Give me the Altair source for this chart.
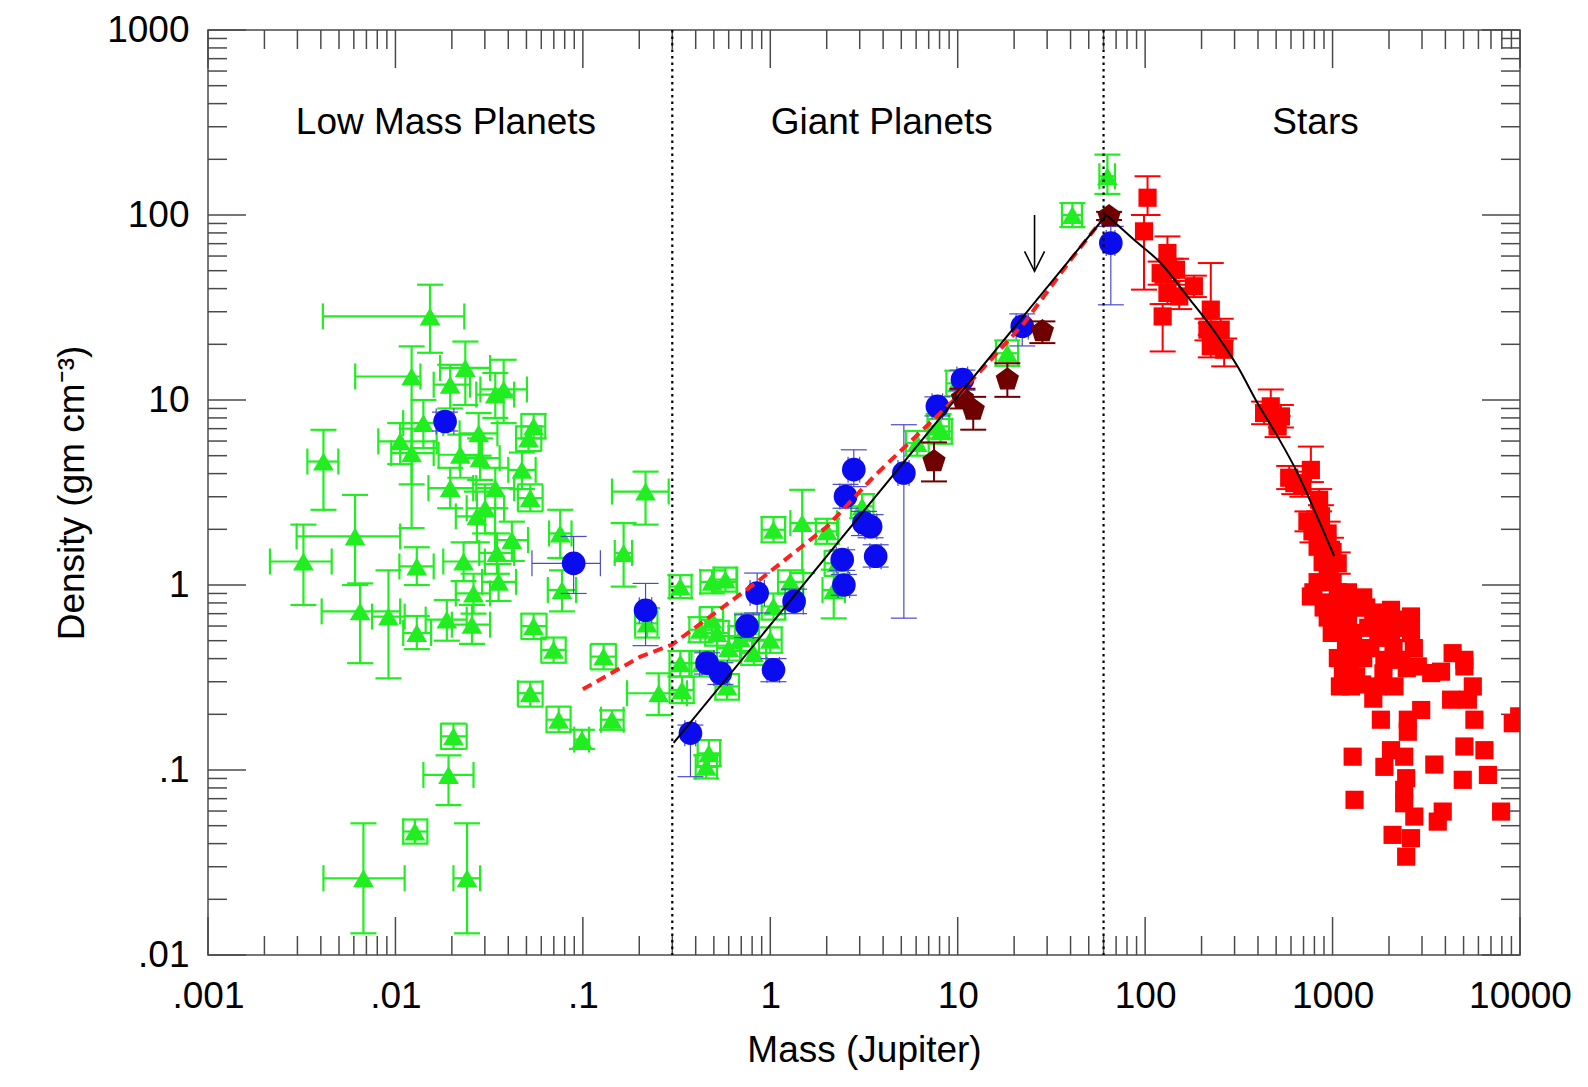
import altair as alt
import pandas as pd

# ---------------- data ----------------
# Green triangles (mass in M_Jup, density in g/cm^3, with error ranges)
g_mass = [0.0153, 0.0122, 0.0236, 0.0196, 0.0378, 0.0341, 0.0141, 0.0106, 0.0122, 0.0278,
          0.0546, 0.0513, 0.00413, 0.0222, 0.0283, 0.0473, 0.0196, 0.0341, 0.0524, 0.0301,
          0.0272, 0.216, 0.00609, 0.00323, 0.0757, 0.0418, 0.013, 0.0231, 0.0348, 0.0774,
          0.0355, 0.0261, 0.165, 0.22, 0.00648, 0.00918, 0.013, 0.0188, 0.0256, 0.0546,
          0.0698, 0.129, 0.0524, 0.0743, 0.0989, 0.143, 0.254, 0.0204, 0.0192, 0.0127,
          0.00675, 0.0241, 0.331, 0.338, 0.489, 0.576, 1.28, 1.48, 1.04, 2.01,
          2.27, 2.18, 3.09, 6.08, 8.1, 7.9, 9.95, 18.4, 40.9, 62.9,
          0.424, 0.489, 0.52, 0.693, 0.6, 0.752, 0.816, 1.0, 1.04, 0.588,
          0.433, 0.331, 0.47, 0.455]
g_dens = [28.3, 13.4, 14.9, 12.1, 11.4, 10.7, 7.5, 5.98, 5.16, 6.6,
          7.2, 6.2, 4.65, 5.06, 4.85, 4.19, 3.34, 3.34, 2.95, 2.6,
          2.35, 3.2, 1.83, 1.34, 1.9, 1.75, 1.26, 1.34, 1.49, 0.94,
          1.04, 0.9, 1.49, 0.62, 0.72, 0.675, 0.55, 0.65, 0.61, 0.6,
          0.446, 0.41, 0.26, 0.187, 0.146, 0.187, 0.26, 0.152, 0.094, 0.0465,
          0.026, 0.026, 0.98, 0.271, 1.04, 1.07, 1.04, 2.16, 1.99, 1.95,
          1.31, 0.94, 2.66, 5.85, 6.77, 7.2, 12.3, 17.9, 100, 162,
          0.573, 0.649, 0.55, 0.516, 0.456, 0.6, 0.428, 0.506, 0.765, 0.283,
          0.378, 0.378, 0.123, 0.104]
g_mass_lo = [0.0041, 0.0061, 0.0173, 0.016, 0.0284, 0.027, 0.011, 0.0081, 0.0095, 0.022,
             0.047, 0.044, 0.00339, 0.017, 0.022, 0.04, 0.015, 0.027, 0.045, 0.024,
             0.021, 0.143, 0.00297, 0.00214, 0.066, 0.034, 0.0105, 0.018, 0.028, 0.065,
             0.029, 0.021, 0.148, 0.19, 0.00404, 0.0075, 0.011, 0.0145, 0.02, 0.047,
             0.06, 0.11, 0.045, 0.064, 0.09, 0.125, 0.172, 0.0175, 0.0141, 0.011,
             0.00413, 0.0204, 0.29, 0.29, 0.424, 0.5, 1.1, 1.28, 0.9, 1.75,
             1.95, 1.9, 2.7, 5.3, 7.0, 6.9, 8.7, 16, 36, 57,
             0.37, 0.42, 0.45, 0.6, 0.52, 0.65, 0.7, 0.87, 0.9, 0.51,
             0.37, 0.29, 0.41, 0.4]
g_mass_hi = [0.0233, 0.0136, 0.032, 0.025, 0.0503, 0.043, 0.018, 0.0166, 0.016, 0.035,
             0.063, 0.06, 0.00496, 0.029, 0.036, 0.056, 0.026, 0.043, 0.061, 0.038,
             0.034, 0.287, 0.0106, 0.00457, 0.087, 0.051, 0.016, 0.03, 0.043, 0.092,
             0.044, 0.032, 0.183, 0.25, 0.0106, 0.0112, 0.0155, 0.024, 0.032, 0.064,
             0.081, 0.15, 0.061, 0.086, 0.108, 0.165, 0.359, 0.024, 0.0261, 0.0148,
             0.0112, 0.0283, 0.38, 0.39, 0.665, 0.66, 1.5, 2.27, 1.2, 2.3,
             2.6, 2.5, 3.55, 7.0, 9.3, 9.0, 11.4, 21, 46, 69,
             0.49, 0.56, 0.6, 0.8, 0.69, 0.87, 0.95, 1.15, 1.2, 0.68,
             0.5, 0.38, 0.54, 0.52]
g_dens_lo = [18, 2.03, 9.4, 9.0, 7.5, 8.0, 5.5, 4.5, 3.5, 5.0,
             6.2, 5.3, 2.55, 3.8, 3.7, 3.3, 2.6, 2.6, 2.5, 1.9,
             1.7, 2.12, 1.0, 0.78, 1.4, 1.35, 1.0, 1.05, 1.15, 0.72,
             0.82, 0.7, 0.98, 0.52, 0.378, 0.313, 0.45, 0.5, 0.48, 0.51,
             0.38, 0.35, 0.22, 0.16, 0.13, 0.165, 0.198, 0.13, 0.0646, 0.04,
             0.0131, 0.0131, 0.85, 0.23, 0.9, 0.92, 0.9, 1.16, 1.7, 1.67,
             1.12, 0.66, 2.3, 5.0, 5.8, 6.2, 10.5, 15.3, 86, 130,
             0.49, 0.55, 0.47, 0.44, 0.39, 0.51, 0.37, 0.43, 0.65, 0.24,
             0.32, 0.32, 0.105, 0.09]
g_dens_hi = [42, 19.5, 20.7, 15.5, 16.5, 14, 10, 7.5, 7.0, 8.5,
             8.4, 7.2, 6.9, 6.5, 6.2, 5.2, 4.3, 4.3, 3.5, 3.5,
             3.2, 4.1, 3.07, 2.12, 2.55, 2.2, 1.6, 1.7, 1.9, 1.2,
             1.3, 1.15, 2.16, 0.75, 1.02, 1.2, 0.68, 0.83, 0.78, 0.7,
             0.52, 0.48, 0.3, 0.22, 0.165, 0.21, 0.333, 0.178, 0.12, 0.054,
             0.0515, 0.0515, 1.13, 0.32, 1.2, 1.24, 1.2, 3.27, 2.33, 2.28,
             1.53, 1.21, 3.1, 6.8, 7.9, 8.4, 14.4, 21, 116, 212,
             0.67, 0.76, 0.64, 0.6, 0.53, 0.7, 0.5, 0.59, 0.9, 0.33,
             0.44, 0.44, 0.145, 0.12]

# Blue circles
b_mass = [0.0184, 0.0893, 0.216, 0.375, 0.752, 0.46, 0.542, 0.851, 1.04, 1.34, 2.42, 2.47,
          2.52, 2.79, 3.16, 3.43, 3.65, 5.16, 7.79, 10.6, 22.1, 65.6]
b_dens = [7.65, 1.31, 0.73, 0.158, 0.6, 0.378, 0.334, 0.904, 0.348, 0.815, 1.37, 1.0,
          3.01, 4.2, 2.16, 2.07, 1.43, 4.03, 9.24, 12.9, 25.0, 70.5]
b_mass_lo = [0.0165, 0.0535, 0.2, 0.35, 0.7, 0.42, 0.5, 0.78, 0.96, 1.2, 2.25, 2.3,
             2.35, 2.6, 2.95, 3.2, 3.4, 4.8, 7.3, 9.9, 20.5, 62]
b_mass_hi = [0.0205, 0.124, 0.233, 0.4, 0.81, 0.5, 0.59, 0.93, 1.12, 1.5, 2.6, 2.65,
             2.7, 3.0, 3.4, 3.7, 3.9, 5.5, 8.3, 11.3, 23.8, 69]
b_dens_lo = [6.8, 0.9, 0.47, 0.092, 0.52, 0.33, 0.29, 0.706, 0.3, 0.7, 1.2, 0.88,
             2.6, 3.4, 1.85, 1.8, 1.25, 0.662, 8.2, 11.3, 19.6, 32.7]
b_dens_hi = [8.6, 1.83, 1.02, 0.175, 0.69, 0.43, 0.38, 1.16, 0.4, 0.95, 1.55, 1.14,
             3.5, 5.38, 2.5, 2.4, 1.65, 7.35, 10.4, 14.5, 29.2, 86.8]

# Dark red pentagons
p_mass = [7.47, 12.1, 10.6, 18.4, 28.3, 64.2]
p_dens = [4.66, 8.86, 10.2, 12.9, 23.5, 98.4]
p_dens_lo = [3.63, 6.91, 9.0, 10.4, 20.3, 94]
p_dens_hi = [5.9, 10.4, 11.5, 15.8, 26.6, 104]

# Red squares (stars) with error bars
ra_mass = [103, 98.6, 131.5, 121, 137, 146, 131.5, 182, 152, 124, 224, 215, 253, 224, 264,
           468, 530, 431, 509, 766, 625, 848, 867, 941, 980, 1065, 587, 690, 734, 781]
ra_dens = [124, 81.6, 62.3, 48.5, 50.6, 50.6, 37.9, 41.2, 36.3, 28.3, 30.8, 24, 24, 19.5, 18.7,
           9.24, 8.15, 8.5, 7.2, 4.19, 3.55, 2.89, 2.35, 1.9, 1.55, 1.31, 3.8, 3.43, 2.21, 1.95]
ra_dens_lo = [100, 39.5, 50, 42, 44, 44, 33, 36, 31, 18.3, 26, 21, 21, 17, 15.2,
              8, 7.1, 7.4, 6.3, 3.6, 3.1, 2.5, 2.05, 1.65, 1.35, 1.15, 3.3, 3.0, 1.95, 1.7]
ra_dens_hi = [162, 100, 76.6, 56, 58, 58, 43, 47, 42, 33, 55, 27.5, 27.5, 22.5, 21.5,
              11.4, 9.4, 9.8, 8.2, 5.6, 4.1, 3.3, 2.7, 2.2, 1.8, 1.5, 4.4, 3.9, 2.5, 2.25]

# Red squares (stars) without visible error bars
rb_mass = [832, 885, 942, 1000, 1067, 966, 1135, 1040, 1208, 1094, 1286, 1179, 1369, 1239, 1457,
           1335, 1135, 1550, 1649, 1512, 1756, 1457, 1208, 942, 1067, 1369, 1589, 1756, 1939, 2196,
           2397, 2115, 2714, 2488, 1868, 1649, 832, 1000, 885, 790, 896, 990, 1094, 1438,
           766, 1254, 2050, 2620, 2050, 2620, 1890, 2320, 2850, 1740, 2140, 1810, 2520, 2970, 2520,
           2050, 2410, 1890, 2470, 2410, 2410, 2730, 2090, 2620, 2470, 1280, 1310, 3490, 3640, 3870,
           3360, 3790, 4290, 4370, 5050, 5050, 5600, 5270, 5710, 5050, 6460, 4950, 6740, 7930, 9150, 9900]
rb_dens = [1.61, 1.33, 1.175, 1.036, 0.913, 0.805, 0.756, 0.667, 0.65, 0.551, 0.551, 0.456, 0.456, 0.378, 0.403,
           0.321, 0.333, 0.587, 0.71, 0.756, 0.65, 0.857, 0.913, 0.667, 0.403, 0.756, 0.456, 0.518, 0.625, 0.65,
           0.587, 0.456, 0.456, 0.355, 0.333, 0.243, 1.036, 1.51, 1.83, 0.913, 0.756, 0.551, 0.283, 0.29,
           0.867, 0.283, 0.734, 0.676, 0.527, 0.549, 0.394, 0.394, 0.363, 0.283, 0.283, 0.187, 0.187, 0.211, 0.161,
           0.128, 0.118, 0.104, 0.0903, 0.0781, 0.0661, 0.056, 0.0446, 0.0428, 0.034, 0.118, 0.069, 0.107, 0.0526, 0.0596,
           0.334, 0.34, 0.24, 0.428, 0.394, 0.363, 0.283, 0.24, 0.187, 0.134, 0.128, 0.0885, 0.094, 0.0596, 0.179, 0.195]

# Fitted relations
fit_left_mass = [0.305, 62.1]
fit_left_dens = [0.14, 100]
fit_right_mass = [62.1, 87.3, 121, 168, 234, 311, 398, 509, 651, 798, 1021]
fit_right_dens = [100, 73.5, 55, 36.3, 23.5, 15.2, 9.6, 6.35, 4.02, 2.55, 1.43]
dash_mass = [0.1, 0.203, 0.298, 0.851, 2.01, 3.57, 9.55, 22.6, 40.1, 58]
dash_dens = [0.273, 0.41, 0.475, 1.04, 2.07, 3.86, 10.0, 26.0, 57.3, 92.4]

# Arrow, divider lines, region labels
arrow_mass = [25.7]
arrow_top = [100]
arrow_tip = [49.6]
divider_mass = [0.3, 60]
region_text = ["Low Mass Planets", "Giant Planets", "Stars"]
region_mass = [0.0186, 3.93, 811]
region_dens = [313, 313, 313]

# Axis ticks
x_label_values = [0.001, 0.01, 0.1, 1, 10, 100, 1000, 10000]
y_label_values = [0.01, 0.1, 1, 10, 100, 1000]
x_minor = [m * 10.0 ** k for k in range(-3, 4) for m in range(2, 10)]
y_minor = [m * 10.0 ** k for k in range(-2, 3) for m in range(2, 10)]

# ---------------- chart ----------------
W, H = 1312, 925
FONT = "Liberation Sans"
GREEN = "#20ee20"
BLUE = "#0b0bef"
BLUE_ERR = "#4a4ad0"
RED = "#ff0000"
MAROON = "#6e0000"
AXC = "#4a4a4a"
CAP = 26

XS = alt.Scale(type="log", domain=[0.001, 10000], nice=False)
YS = alt.Scale(type="log", domain=[0.01, 1000], nice=False)
LABEL_EXPR = "datum.value < 1 ? slice(toString(datum.value), 1) : toString(datum.value)"

AX_X = alt.Axis(values=x_label_values, labelExpr=LABEL_EXPR, title="Mass (Jupiter)",
                grid=False, ticks=False, tickSize=0, domain=False,
                labelFont=FONT, labelFontSize=37, labelColor="black", labelPadding=23,
                labelFlush=False, labelOverlap=False,
                titleFont=FONT, titleFontSize=37, titleFontWeight="normal",
                titleColor="black", titlePadding=18)
AX_Y = alt.Axis(values=y_label_values, labelExpr=LABEL_EXPR, title="Density (gm cm⁻³)",
                grid=False, ticks=False, tickSize=0, domain=False,
                labelFont=FONT, labelFontSize=37, labelColor="black", labelPadding=19,
                labelFlush=False, labelOverlap=False,
                titleFont=FONT, titleFontSize=37, titleFontWeight="normal",
                titleColor="black", titlePadding=15)


def X(f):
    return alt.X(f, type="quantitative", scale=XS, axis=AX_X)


def Y(f):
    return alt.Y(f, type="quantitative", scale=YS, axis=AX_Y)


def err_layers(df, color, width, xbars=True, xcaps=True):
    base = alt.Chart(df)
    out = [base.mark_rule(color=color, strokeWidth=width, clip=True).encode(
        x=X("m"), y=Y("dlo"), y2="dhi")]
    if xbars:
        out.append(base.mark_rule(color=color, strokeWidth=width, clip=True).encode(
            x=X("mlo"), x2="mhi", y=Y("d")))
    for f in ("dlo", "dhi"):
        out.append(base.mark_tick(orient="horizontal", size=CAP, thickness=width, color=color,
                                  opacity=1, clip=True).encode(x=X("m"), y=Y(f)))
    if xcaps:
        for f in ("mlo", "mhi"):
            out.append(base.mark_tick(orient="vertical", size=CAP, thickness=width, color=color,
                                      opacity=1, clip=True).encode(x=X(f), y=Y("d")))
    return out


green = pd.DataFrame({"m": g_mass, "d": g_dens, "mlo": g_mass_lo, "mhi": g_mass_hi,
                      "dlo": g_dens_lo, "dhi": g_dens_hi})
blue = pd.DataFrame({"m": b_mass, "d": b_dens, "mlo": b_mass_lo, "mhi": b_mass_hi,
                     "dlo": b_dens_lo, "dhi": b_dens_hi})
penta = pd.DataFrame({"m": p_mass, "d": p_dens, "dlo": p_dens_lo, "dhi": p_dens_hi})
reda = pd.DataFrame({"m": ra_mass, "d": ra_dens, "dlo": ra_dens_lo, "dhi": ra_dens_hi})
redb = pd.DataFrame({"m": rb_mass, "d": rb_dens})

layers = []

# inward ticks on all four sides
for vals, ln in ((x_label_values, 38), (x_minor, 19)):
    dfx = pd.DataFrame({"v": vals})
    layers.append(alt.Chart(dfx).mark_rule(color=AXC, strokeWidth=1.5).encode(
        x=X("v"), y=alt.value(H), y2=alt.value(H - ln)))
    layers.append(alt.Chart(dfx).mark_rule(color=AXC, strokeWidth=1.5).encode(
        x=X("v"), y=alt.value(0), y2=alt.value(ln)))
for vals, ln in ((y_label_values, 38), (y_minor, 19)):
    dfy = pd.DataFrame({"v": vals})
    layers.append(alt.Chart(dfy).mark_rule(color=AXC, strokeWidth=1.5).encode(
        y=Y("v"), x=alt.value(0), x2=alt.value(ln)))
    layers.append(alt.Chart(dfy).mark_rule(color=AXC, strokeWidth=1.5).encode(
        y=Y("v"), x=alt.value(W), x2=alt.value(W - ln)))

# green triangles
layers += err_layers(green, GREEN, 2.2)
layers.append(alt.Chart(green).mark_point(shape="triangle-up", filled=True, size=430,
                                          color=GREEN, opacity=1, strokeWidth=0).encode(
    x=X("m"), y=Y("d")))

# blue circles
layers += err_layers(blue, BLUE_ERR, 1.2)
layers.append(alt.Chart(blue).mark_point(shape="circle", filled=True, size=560,
                                         color=BLUE, opacity=1, strokeWidth=0).encode(
    x=X("m"), y=Y("d")))

# dark red pentagons
layers += err_layers(penta, MAROON, 2, xbars=False, xcaps=False)
layers.append(alt.Chart(penta).mark_point(
    shape="M0,-1L0.951,-0.309L0.588,0.809L-0.588,0.809L-0.951,-0.309Z",
    filled=True, size=600, color=MAROON, opacity=1, strokeWidth=0).encode(x=X("m"), y=Y("d")))

# red squares
layers += err_layers(reda, RED, 2, xbars=False, xcaps=False)
layers.append(alt.Chart(reda).mark_point(shape="square", filled=True, size=330, color=RED,
                                         opacity=1, strokeWidth=0, clip=True).encode(
    x=X("m"), y=Y("d")))
layers.append(alt.Chart(redb).mark_point(shape="square", filled=True, size=330, color=RED,
                                         opacity=1, strokeWidth=0, clip=True).encode(
    x=X("m"), y=Y("d")))

# relations
layers.append(alt.Chart(pd.DataFrame({"m": dash_mass, "d": dash_dens})).mark_line(
    color="#ff1f1f", strokeWidth=4, strokeDash=[10, 6]).encode(x=X("m"), y=Y("d")))
layers.append(alt.Chart(pd.DataFrame({"m": fit_left_mass, "d": fit_left_dens})).mark_line(
    color="black", strokeWidth=2).encode(x=X("m"), y=Y("d")))
layers.append(alt.Chart(pd.DataFrame({"m": fit_right_mass, "d": fit_right_dens})).mark_line(
    color="black", strokeWidth=2, interpolate="monotone").encode(x=X("m"), y=Y("d")))

# dotted dividers
layers.append(alt.Chart(pd.DataFrame({"m": divider_mass})).mark_rule(
    color="black", strokeWidth=2.2, strokeDash=[2.5, 4]).encode(
    x=X("m"), y=alt.value(0), y2=alt.value(H)))

# arrow
arrow = pd.DataFrame({"m": arrow_mass, "top": arrow_top, "tip": arrow_tip})
layers.append(alt.Chart(arrow).mark_rule(color="black", strokeWidth=1.6).encode(
    x=X("m"), y=Y("top"), y2="tip"))
layers.append(alt.Chart(arrow).mark_point(shape="M-1,-2L0,0L1,-2", filled=False, size=400,
                                          color="black", opacity=1, strokeWidth=1.6).encode(
    x=X("m"), y=Y("tip")))

# region labels
layers.append(alt.Chart(pd.DataFrame({"t": region_text, "m": region_mass, "d": region_dens}))
              .mark_text(font=FONT, fontSize=37, color="black", align="center", baseline="middle")
              .encode(x=X("m"), y=Y("d"), text="t:N"))

chart = alt.layer(*layers).properties(
    width=W, height=H,
    padding={"left": 200, "top": 22, "right": 60, "bottom": 118},
    autosize=alt.AutoSizeParams(type="none"),
    background="white",
).configure_view(stroke=AXC, strokeWidth=1.5)

chart.save("out.html", embed_options={"renderer": "svg", "actions": False})
